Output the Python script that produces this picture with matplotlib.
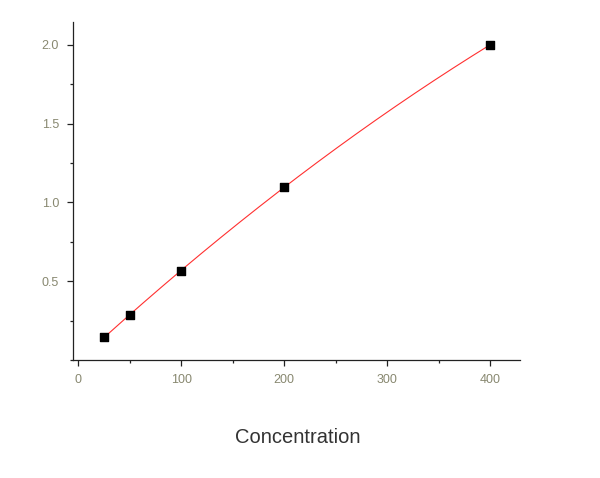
import numpy as np
import matplotlib
matplotlib.use("Agg")
import matplotlib.pyplot as plt
from matplotlib.ticker import MultipleLocator

plt.rcParams['font.family'] = ['Liberation Sans', 'DejaVu Sans']

concentration = [25, 50, 100, 200, 400]
od_values = [0.146, 0.285, 0.563, 1.10, 2.0]
x_ticks = [0, 100, 200, 300, 400]
y_ticks = [0.5, 1.0, 1.5, 2.0]

fig = plt.figure(figsize=(6, 4.78), dpi=100)
ax = fig.add_axes([0.1217, 0.2469, 0.745, 0.707])

# fitted standard curve (quadratic fit of the data)
coef = np.polyfit(concentration, od_values, 2)
xf = np.linspace(min(concentration), max(concentration), 200)
ax.plot(xf, np.polyval(coef, xf), color="#ff3030", lw=0.8, zorder=2)
ax.scatter(concentration, od_values, marker="s", s=28, color="black", zorder=3)

ax.set_xlim(-5, 429)
ax.set_ylim(0, 2.145)
ax.set_xticks(x_ticks)
ax.set_yticks(y_ticks)
ax.set_xticklabels([str(v) for v in x_ticks])
ax.set_yticklabels([f"{v:.1f}" for v in y_ticks])
ax.xaxis.set_minor_locator(MultipleLocator(50))
ax.yaxis.set_minor_locator(MultipleLocator(0.25))

for s in ["top", "right"]:
    ax.spines[s].set_visible(False)
for s in ["left", "bottom"]:
    ax.spines[s].set_linewidth(0.9)
    ax.spines[s].set_color("#222222")

ax.tick_params(which="major", direction="out", length=4, width=0.9, color="#222222",
               labelsize=9, labelcolor="#888870", pad=6)
ax.tick_params(which="minor", direction="out", length=2.5, width=0.9, color="#222222")

fig.text(0.497, 0.085, "Concentration", ha="center", va="center",
         fontsize=14.5, color="#333333")

fig.savefig("out.png", dpi=100)
